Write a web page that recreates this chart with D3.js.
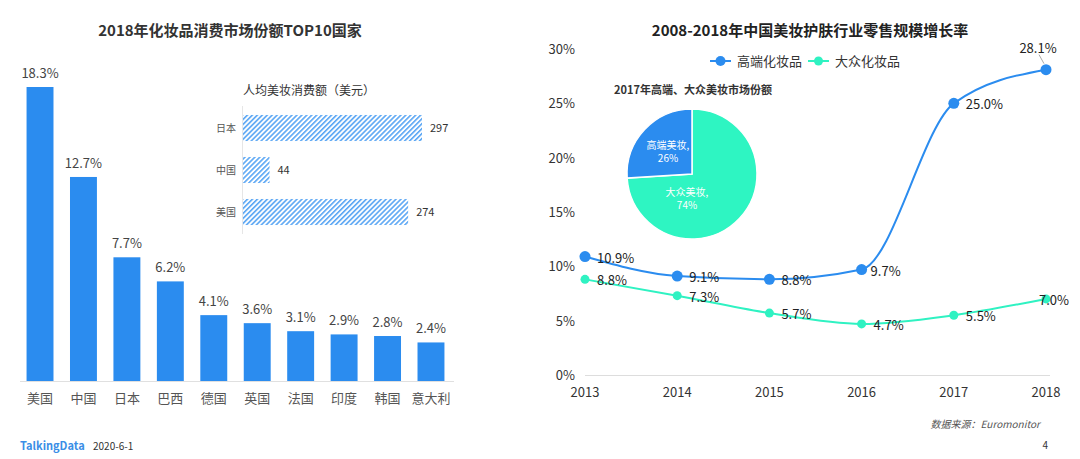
<!DOCTYPE html>
<html><head><meta charset="utf-8">
<script src="https://cdn.jsdelivr.net/npm/d3@7/dist/d3.min.js"></script>
<style>
html,body{margin:0;padding:0;background:#fff;}
svg{display:block;font-family:"Noto Sans CJK SC","Noto Sans",sans-serif;}
</style></head><body>
<svg id="c" width="1080" height="459"></svg>
<script>
// ---- data ----
const countries = ["美国","中国","日本","巴西","德国","英国","法国","印度","韩国","意大利"];
const shareValues = [18.3,12.7,7.7,6.2,4.1,3.6,3.1,2.9,2.8,2.4];
const insetCountries = ["日本","中国","美国"];
const insetValues = [297,44,274];
const years = ["2013","2014","2015","2016","2017","2018"];
const highEnd = [10.9,9.1,8.8,9.7,25.0,28.1];
const massMarket = [8.8,7.3,5.7,4.7,5.5,7.0];
const yTicks = [0,5,10,15,20,25,30];
const pieLabels = ["大众美妆","高端美妆"];
const pieValues = [74,26];
const seriesNames = ["高端化妆品","大众化妆品"];

const BLUE = "#2b8cef", GREEN = "#2ff2c2";
const svg = d3.select("#c");

// defs: hatch pattern
const defs = svg.append("defs");
const pat = defs.append("pattern").attr("id","hatch").attr("patternUnits","userSpaceOnUse")
  .attr("width",3.5).attr("height",3.5).attr("patternTransform","rotate(45)");
pat.append("rect").attr("width",3.5).attr("height",3.5).attr("fill","#fff");
pat.append("rect").attr("width",1.6).attr("height",3.5).attr("fill","#5aa6f4");

// ---- left chart ----
svg.append("text").attr("x",230).attr("y",36).attr("text-anchor","middle")
  .attr("font-size",15).attr("font-weight","bold").attr("fill","#333")
  .text("2018年化妆品消费市场份额TOP10国家");

const xb = d3.scaleBand().domain(countries).range([18.3,452.7]).paddingInner(0.38).paddingOuter(0.19);
const yb = d3.scaleLinear().domain([0,18.3]).range([381,87]);

svg.append("line").attr("x1",20).attr("x2",454).attr("y1",381.5).attr("y2",381.5)
  .attr("stroke","#e0e0e0").attr("stroke-width",1);

svg.append("g").selectAll("rect").data(shareValues).join("rect")
  .attr("x",(d,i)=>xb(countries[i])).attr("width",xb.bandwidth())
  .attr("y",d=>yb(d)).attr("height",d=>yb(0)-yb(d)).attr("fill",BLUE);

svg.append("g").selectAll("text").data(shareValues).join("text")
  .attr("x",(d,i)=>xb(countries[i])+xb.bandwidth()/2).attr("y",d=>yb(d)-9)
  .attr("text-anchor","middle").attr("font-size",13).attr("fill","#444")
  .text(d=>d.toFixed(1)+"%");

svg.append("g").selectAll("text").data(countries).join("text")
  .attr("x",d=>xb(d)+xb.bandwidth()/2).attr("y",403)
  .attr("text-anchor","middle").attr("font-size",13).attr("fill","#555")
  .text(d=>d);

// inset
svg.append("text").attr("x",243).attr("y",95).attr("font-size",12).attr("fill","#333")
  .text("人均美妆消费额（美元）");
const xi = d3.scaleLinear().domain([0,297]).range([243,422]);
const yi = d3.scaleBand().domain(insetCountries).range([107,233]).paddingInner(0.38).paddingOuter(0.19);
svg.append("line").attr("x1",242.5).attr("x2",242.5).attr("y1",106).attr("y2",234)
  .attr("stroke","#e6e6e6");
svg.append("g").selectAll("rect").data(insetValues).join("rect")
  .attr("x",xi(0)).attr("y",(d,i)=>yi(insetCountries[i]))
  .attr("width",d=>xi(d)-xi(0)).attr("height",yi.bandwidth()).attr("fill","url(#hatch)");
svg.append("g").selectAll("text").data(insetValues).join("text")
  .attr("x",d=>xi(d)+8).attr("y",(d,i)=>yi(insetCountries[i])+yi.bandwidth()/2+4)
  .attr("font-size",11).attr("fill","#333").text(d=>d);
svg.append("g").selectAll("text").data(insetCountries).join("text")
  .attr("x",236).attr("y",d=>yi(d)+yi.bandwidth()/2+4).attr("text-anchor","end")
  .attr("font-size",10).attr("fill","#555").text(d=>d);

// ---- right chart ----
svg.append("text").attr("x",810).attr("y",36).attr("text-anchor","middle")
  .attr("font-size",15).attr("font-weight","bold").attr("fill","#222")
  .text("2008-2018年中国美妆护肤行业零售规模增长率");

const xl = d3.scalePoint().domain(years).range([585,1046]);
const yl = d3.scaleLinear().domain([0,30]).range([375,49]);

svg.append("line").attr("x1",585).attr("x2",1050).attr("y1",375.5).attr("y2",375.5)
  .attr("stroke","#ddd");
svg.append("g").selectAll("text").data(yTicks).join("text")
  .attr("x",575).attr("y",d=>yl(d)+5).attr("text-anchor","end")
  .attr("font-size",13).attr("fill","#333").text(d=>d+"%");
svg.append("g").selectAll("text").data(years).join("text")
  .attr("x",d=>xl(d)).attr("y",397).attr("text-anchor","middle")
  .attr("font-size",13).attr("fill","#333").text(d=>d);

// pie
svg.append("text").attr("x",693).attr("y",94).attr("text-anchor","middle")
  .attr("font-size",11).attr("font-weight","bold").attr("fill","#333")
  .text("2017年高端、大众美妆市场份额");
const pieG = svg.append("g").attr("transform","translate(692,174)");
const pie = d3.pie().sort(null)(pieValues);
const arc = d3.arc().innerRadius(0).outerRadius(65);
pieG.selectAll("path").data(pie).join("path").attr("d",arc)
  .attr("fill",(d,i)=>i===0?"#2ef5c2":BLUE).attr("stroke","#fff").attr("stroke-width",1.5);
const labelOffsets = [[-5,24],[-24,-23]];
pie.forEach((d,i)=>{
  const t = pieG.append("text").attr("text-anchor","middle").attr("font-size",10).attr("fill","#fff");
  const [ox,oy] = labelOffsets[i];
  t.append("tspan").attr("x",ox).attr("y",oy-2).text(pieLabels[i]+",");
  t.append("tspan").attr("x",ox).attr("y",oy+11).text(d.data+"%");
});

// lines
const line = d3.line().x((d,i)=>xl(years[i])).y(d=>yl(d)).curve(d3.curveMonotoneX);
svg.append("path").attr("d",line(massMarket)).attr("fill","none").attr("stroke",GREEN).attr("stroke-width",2);
svg.append("path").attr("d",line(highEnd)).attr("fill","none").attr("stroke",BLUE).attr("stroke-width",2);

svg.append("g").selectAll("circle").data(massMarket).join("circle")
  .attr("cx",(d,i)=>xl(years[i])).attr("cy",d=>yl(d)).attr("r",4.5).attr("fill",GREEN);
svg.append("g").selectAll("circle").data(highEnd).join("circle")
  .attr("cx",(d,i)=>xl(years[i])).attr("cy",d=>yl(d)).attr("r",5.5).attr("fill",BLUE);

// labels
const lblG = svg.append("g").attr("font-size",13).attr("fill","#222");
massMarket.forEach((d,i)=>{
  const last = i===years.length-1;
  lblG.append("text").attr("x",xl(years[i])+(last?-7:12)).attr("y",yl(d)+6).text(d.toFixed(1)+"%");
});
highEnd.forEach((d,i)=>{
  if(i===years.length-1){
    const px=xl(years[i]), py=yl(d);
    svg.append("line").attr("x1",px-2).attr("y1",py-6).attr("x2",px-7).attr("y2",py-15)
      .attr("stroke","#aaa").attr("stroke-width",1);
    lblG.append("text").attr("x",px-8).attr("y",py-17).attr("text-anchor","middle").text(d.toFixed(1)+"%");
  } else {
    lblG.append("text").attr("x",xl(years[i])+(i===3?9:12)).attr("y",yl(d)+6).text(d.toFixed(1)+"%");
  }
});

// legend
const lg = svg.append("g");
[[BLUE,710,seriesNames[0],5],[GREEN,808,seriesNames[1],4.5]].forEach(([c,x,t,r])=>{
  lg.append("line").attr("x1",x).attr("x2",x+21).attr("y1",61).attr("y2",61).attr("stroke",c).attr("stroke-width",2);
  lg.append("circle").attr("cx",x+10.5).attr("cy",61).attr("r",r).attr("fill",c);
  lg.append("text").attr("x",x+27).attr("y",66).attr("font-size",13).attr("fill","#333").text(t);
});

// footer
svg.append("text").attr("x",20).attr("y",450).attr("font-size",11).attr("font-weight","bold")
  .attr("fill","#3a8ee6").text("TalkingData");
svg.append("text").attr("x",93).attr("y",450).attr("font-size",10).attr("fill","#333").text("2020-6-1");
svg.append("text").attr("x",1040).attr("y",428).attr("text-anchor","end").attr("font-size",10)
  .attr("font-style","italic").attr("fill","#555").text("数据来源：Euromonitor");
svg.append("text").attr("x",1048).attr("y",449).attr("text-anchor","end").attr("font-size",10)
  .attr("fill","#333").text("4");
</script>
</body></html>
